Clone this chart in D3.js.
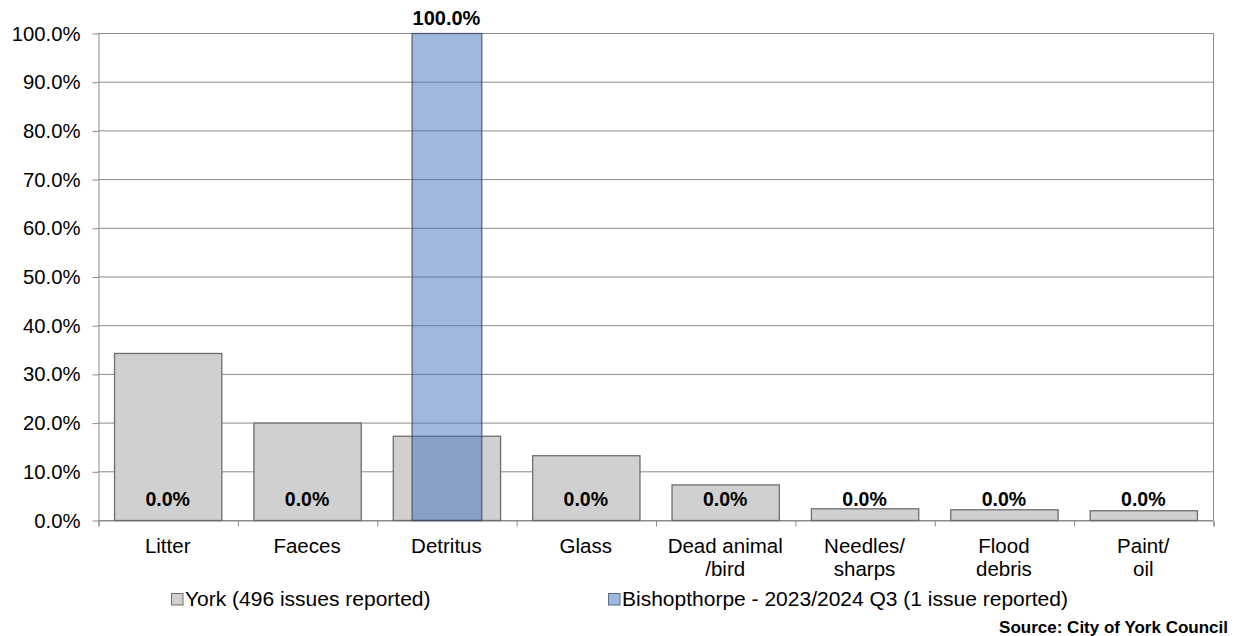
<!DOCTYPE html>
<html><head><meta charset="utf-8">
<script src="https://cdn.jsdelivr.net/npm/d3@7"></script>
<style>body{margin:0;background:#fff}svg{display:block;font-family:"Liberation Sans",Arial,sans-serif}</style>
</head><body>
<svg id="c" width="1236" height="636"></svg>
<script>
const categories = [["Litter"],["Faeces"],["Detritus"],["Glass"],["Dead animal","/bird"],["Needles/","sharps"],["Flood","debris"],["Paint/","oil"]];
const yorkValues = [34.3, 20.0, 17.3, 13.3, 7.3, 2.4, 2.2, 2.0];
const bishopValues = [0, 0, 100, 0, 0, 0, 0, 0];
const seriesNames = ["York (496 issues reported)", "Bishopthorpe - 2023/2024 Q3 (1 issue reported)"];
const yTicks = [0,10,20,30,40,50,60,70,80,90,100];
const sourceText = "Source: City of York Council";

const svg = d3.select("#c");
const L = 98, R = 1213, T = 33, B = 520;
const x = d3.scaleBand().domain(d3.range(categories.length)).range([L, R]);
const y = d3.scaleLinear().domain([0, 100]).range([B, T]);
const bw = x.bandwidth();
const FF = '"Liberation Sans",Arial,sans-serif';

// gridlines
svg.append("g").selectAll("line").data(yTicks).join("line")
  .attr("x1", L).attr("x2", R).attr("y1", d => y(d)+0.5).attr("y2", d => y(d)+0.5)
  .attr("stroke", "#8c8c8c").attr("stroke-width", 1);
// right border
svg.append("line").attr("x1", R+0.5).attr("x2", R+0.5).attr("y1", T).attr("y2", B)
  .attr("stroke", "#8c8c8c");

// y axis
const yAxis = d3.axisLeft(y).tickValues(yTicks).tickFormat(d => d.toFixed(1) + "%").tickSize(6).tickSizeOuter(0);
const gy = svg.append("g").attr("transform", `translate(${L+0.5},0.5)`).call(yAxis);
gy.select(".domain").attr("stroke", "#8c8c8c");
gy.selectAll(".tick line").attr("stroke", "#8c8c8c");
gy.selectAll(".tick text").attr("font-size", 20.3).attr("fill", "#000").attr("x", -18)
  .attr("font-family", FF);

// x axis
const xAxis = d3.axisBottom(d3.scaleLinear().domain([0, categories.length]).range([L, R]))
  .tickValues(d3.range(categories.length + 1)).tickSize(6).tickFormat("");
const gx = svg.append("g").attr("transform", `translate(0.5,${B+0.5})`).call(xAxis);
gx.select(".domain").attr("stroke", "#8c8c8c");
gx.selectAll(".tick line").attr("stroke", "#8c8c8c");

// category labels
const cl = svg.append("g").selectAll("text").data(categories).join("text")
  .attr("x", (d,i) => x(i) + bw/2).attr("y", 553)
  .attr("text-anchor", "middle").attr("font-size", 20.5).attr("fill", "#000");
cl.selectAll("tspan").data(d => d).join("tspan")
  .attr("x", function(){ return d3.select(this.parentNode).attr("x"); })
  .attr("dy", (d,i) => i === 0 ? 0 : 23).text(d => d);

// york bars
const gInset = bw * 0.115, gW = bw * 0.77;
svg.append("g").selectAll("rect").data(yorkValues).join("rect")
  .attr("x", (d,i) => x(i) + gInset + 0.5).attr("width", gW)
  .attr("y", d => y(d) + 0.5).attr("height", d => B - y(d))
  .attr("fill", "#d0d0d0").attr("stroke", "#6e6e6e").attr("stroke-width", 1.3);

// bishopthorpe bars
const bInset = bw * 0.25, bW = bw * 0.5;
svg.append("g").selectAll("rect").data(bishopValues).join("rect")
  .attr("x", (d,i) => x(i) + bInset + 0.5).attr("width", bW)
  .attr("y", d => y(d) + 0.5).attr("height", d => B - y(d))
  .attr("fill", "rgb(61,110,192)").attr("fill-opacity", 0.49)
  .attr("stroke", d => d > 0 ? "#3f4a60" : "none").attr("stroke-opacity", 0.8).attr("stroke-width", 1.3);

// data labels for bishopthorpe
svg.append("g").selectAll("text").data(bishopValues).join("text")
  .attr("x", (d,i) => x(i) + bw/2)
  .attr("y", d => d > 0 ? y(d) - 8 : 506)
  .attr("text-anchor", "middle").attr("font-size", d => d > 0 ? 20 : 19.5).attr("font-weight", "bold").attr("fill", "#000")
  .text(d => d.toFixed(1) + "%");

// legend
const legX = [171, 608];
const lg = svg.append("g").selectAll("g").data(seriesNames).join("g")
  .attr("transform", (d,i) => `translate(${legX[i]},593)`);
lg.append("rect").attr("x", 0.5).attr("y", 0.5).attr("width", 11.5).attr("height", 11.5)
  .attr("fill", (d,i) => i === 0 ? "#d0d0d0" : "#a0b8e0").attr("stroke", (d,i) => i === 0 ? "#6e6e6e" : "#5a6a8a");
lg.append("text").attr("x", 14).attr("y", 13).attr("font-size", 21).attr("fill", "#000").text(d => d);

// source
svg.append("text").attr("x", 1228).attr("y", 633).attr("text-anchor", "end")
  .attr("font-size", 17).attr("font-weight", "bold").attr("fill", "#000").text(sourceText);
</script>
</body></html>
